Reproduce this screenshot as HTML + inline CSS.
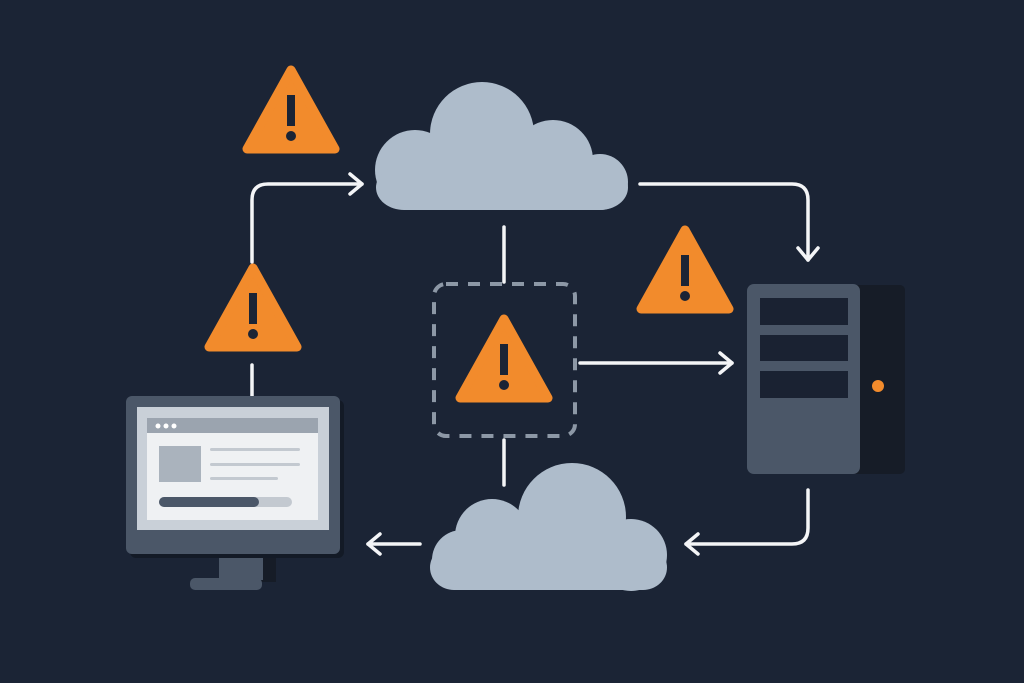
<!DOCTYPE html>
<html><head><meta charset="utf-8"><style>
html,body{margin:0;padding:0;background:#1b2435;}
svg{display:block}
</style></head><body>
<svg width="1024" height="683" viewBox="0 0 1024 683" xmlns="http://www.w3.org/2000/svg">
<rect width="1024" height="683" fill="#1b2435"/>
<defs>
<g id="warn">
<polygon points="48,4 92,83 4,83" fill="#f28b2c" stroke="#f28b2c" stroke-width="9" stroke-linejoin="round"/>
<rect x="44" y="29" width="8" height="31" fill="#1b2435"/>
<circle cx="48" cy="70" r="5" fill="#1b2435"/>
</g>
</defs>
<g stroke="#f4f5f7" stroke-width="3.5" fill="none" stroke-linecap="round" stroke-linejoin="round">
<path d="M252 396 V365"/>
<path d="M252 262 V200 Q252 184 268 184 H362"/>
<path d="M350 174 L362 184 L350 194"/>
<path d="M640 184 H792 Q808 184 808 200 V260"/>
<path d="M798 248 L808 260 L818 248"/>
<path d="M504 227 V282"/>
<path d="M504 440 V485"/>
<path d="M580 363 H732"/>
<path d="M720 353 L732 363 L720 373"/>
<path d="M808 490 V528 Q808 544 792 544 H686"/>
<path d="M698 534 L686 544 L698 554"/>
<path d="M420 544 H368"/>
<path d="M380 534 L368 544 L380 554"/>
</g>
<g fill="#aebccb">
<circle cx="415" cy="170" r="40"/><circle cx="482" cy="134" r="52"/><circle cx="553" cy="160" r="40"/><circle cx="600" cy="182" r="28"/>
<rect x="376" y="165" width="252" height="45" rx="28"/>
<rect x="415" y="162" width="185" height="40"/>
<circle cx="462" cy="560" r="30"/><circle cx="492" cy="536" r="37"/><circle cx="572" cy="517" r="54"/><circle cx="631" cy="555" r="36"/>
<rect x="430" y="545" width="237" height="45" rx="24"/>
<rect x="470" y="520" width="160" height="50"/>
</g>
<rect x="434" y="284" width="141" height="152" rx="12" fill="none" stroke="#8d98a6" stroke-width="4" stroke-dasharray="12 10"/>
<use href="#warn" x="243" y="66"/>
<use href="#warn" x="205" y="264"/>
<use href="#warn" x="637" y="226"/>
<use href="#warn" x="456" y="315"/>
<rect x="850" y="285" width="55" height="189" rx="5" fill="#161c27"/>
<rect x="747" y="284" width="113" height="190" rx="7" fill="#4b5768"/>
<rect x="760" y="298" width="88" height="27" fill="#1a2232"/>
<rect x="760" y="335" width="88" height="26" fill="#1a2232"/>
<rect x="760" y="371" width="88" height="27" fill="#1a2232"/>
<circle cx="878" cy="386" r="6" fill="#f28b2c"/>
<rect x="230" y="550" width="46" height="32" fill="#161c27"/>
<rect x="219" y="552" width="44" height="28" fill="#4b5768"/>
<rect x="190" y="578" width="72" height="12" rx="5" fill="#4b5768"/>
<rect x="130" y="400" width="214" height="158" rx="6" fill="#131a26"/>
<rect x="126" y="396" width="214" height="158" rx="6" fill="#4b5768"/>
<rect x="137" y="407" width="192" height="123" fill="#c9d0d8"/>
<rect x="147" y="418" width="171" height="102" fill="#eff1f3"/>
<rect x="147" y="418" width="171" height="15" fill="#9ba4af"/>
<circle cx="158" cy="426" r="2.5" fill="#fff"/><circle cx="166" cy="426" r="2.5" fill="#fff"/><circle cx="174" cy="426" r="2.5" fill="#fff"/>
<rect x="159" y="446" width="42" height="36" fill="#aab3bd"/>
<rect x="210" y="448" width="90" height="3" rx="1.5" fill="#c3c9d0"/>
<rect x="210" y="463" width="90" height="3" rx="1.5" fill="#c3c9d0"/>
<rect x="210" y="477" width="68" height="3" rx="1.5" fill="#c3c9d0"/>
<rect x="159" y="497" width="133" height="10" rx="5" fill="#c3c9d0"/>
<rect x="159" y="497" width="100" height="10" rx="5" fill="#4b5768"/>
</svg>
</body></html>
